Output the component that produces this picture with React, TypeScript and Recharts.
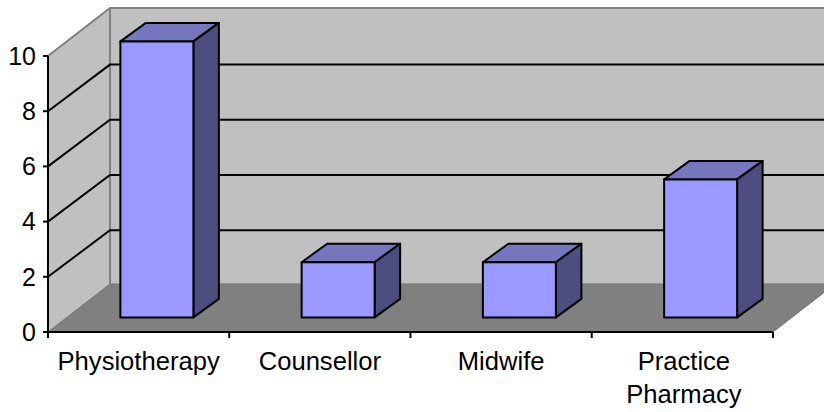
import React from "react";
import { BarChart, Bar, XAxis, YAxis, ReferenceArea } from "recharts";

const categories = ["Physiotherapy", "Counsellor", "Midwife", "Practice Pharmacy"];
const values = [10, 2, 2, 5];
const yTicks = [0, 2, 4, 6, 8, 10];
const gridValues = [2, 4, 6, 8];
const yMax = 10;

const rows = categories.map((name, i) => ({ name, value: values[i] }));

const FONT = "'Liberation Sans', Arial, sans-serif";
const WALL_DX = 62;
const WALL_DY = -48;
const GRID_DY = -46.6;
const BAR_SHIFT_X = 18;
const BAR_SHIFT_Y = -14.6;
const BAR_DX = 25.5;
const BAR_DY = -18.5;
const HALF_BAND = 90.6;

const pts = (a: number[][]) => a.map((p) => p.join(",")).join(" ");

function Walls(props: any) {
  const { x, y, width, height } = props;
  const b = y + height;
  const r = x + width;
  return (
    <g>
      <polygon
        points={pts([[x, y], [x + WALL_DX, y + WALL_DY], [x + WALL_DX, b + WALL_DY], [x, b]])}
        fill="#c0c0c0"
      />
      <rect x={x + WALL_DX} y={y + WALL_DY} width={width} height={height} fill="#c0c0c0" />
      <polygon
        points={pts([[x, b], [x + WALL_DX, b + WALL_DY], [r + WALL_DX, b + WALL_DY], [r, b]])}
        fill="#808080"
        stroke="#707070"
        strokeWidth={1}
      />
      <polyline
        points={pts([[x, y], [x + WALL_DX, y + WALL_DY], [r + WALL_DX, y + WALL_DY]])}
        fill="none"
        stroke="#808080"
        strokeWidth={2}
      />
      <line
        x1={x + WALL_DX}
        y1={y + WALL_DY}
        x2={x + WALL_DX}
        y2={b + WALL_DY}
        stroke="#808080"
        strokeWidth={2}
      />
      {gridValues.map((v) => {
        const gy = b - (height * v) / yMax;
        return (
          <polyline
            key={v}
            points={pts([[x, gy], [x + WALL_DX, gy + GRID_DY], [r + WALL_DX, gy + GRID_DY]])}
            fill="none"
            stroke="#000"
            strokeWidth={2}
          />
        );
      })}
    </g>
  );
}

function Bar3D(props: any) {
  const { x, y, width, height } = props;
  const l = x + BAR_SHIFT_X;
  const r = l + width;
  const t = y + BAR_SHIFT_Y;
  const b = t + height;
  return (
    <g stroke="#000" strokeWidth={2} strokeLinejoin="round">
      <polygon points={pts([[l, t], [l + BAR_DX, t + BAR_DY], [r + BAR_DX, t + BAR_DY], [r, t]])} fill="#7676bf" />
      <polygon points={pts([[r, t], [r + BAR_DX, t + BAR_DY], [r + BAR_DX, b + BAR_DY], [r, b]])} fill="#4d4d80" />
      <rect x={l} y={t} width={width} height={height} fill="#9999ff" />
    </g>
  );
}

function CategoryTick(props: any) {
  const { x, y, payload, index } = props;
  const words = String(payload.value).split(" ");
  const axisY = y - 8;
  return (
    <g>
      <line x1={x + HALF_BAND} y1={axisY} x2={x + HALF_BAND} y2={axisY + 6} stroke="#000" strokeWidth={2} />
      {index === 0 && <line x1={x - HALF_BAND} y1={axisY} x2={x - HALF_BAND} y2={axisY + 6} stroke="#000" strokeWidth={2} />}
      <text textAnchor="middle" fontFamily={FONT} fontSize={25.6} fill="#000">
        {words.map((w, i) => (
          <tspan key={w} x={x + (i >= 0 && words.length > 1 ? 1.5 : 0)} y={axisY + 38 + i * 33}>
            {w}
          </tspan>
        ))}
      </text>
    </g>
  );
}

export default function App() {
  return (
    <div style={{ position: "absolute", left: 0, top: 0, width: 824, height: 412, overflow: "hidden", background: "#fff" }}>
      <BarChart
        width={824}
        height={412}
        data={rows}
        barCategoryGap="30%"
        margin={{ top: 56, right: 51, bottom: 0, left: 0 }}
      >
        <ReferenceArea y1={0} y2={yMax} ifOverflow="visible" shape={<Walls />} />
        <XAxis
          dataKey="name"
          height={80}
          interval={0}
          tickLine={false}
          axisLine={{ stroke: "#000", strokeWidth: 2 }}
          tick={<CategoryTick />}
        />
        <YAxis
          width={48}
          domain={[0, yMax]}
          ticks={yTicks}
          interval={0}
          tickSize={5}
          tickMargin={7}
          axisLine={{ stroke: "#000", strokeWidth: 2 }}
          tickLine={{ stroke: "#000", strokeWidth: 2 }}
          tick={{ fontSize: 25, fontFamily: FONT, fill: "#000" }}
        />
        <Bar dataKey="value" isAnimationActive={false} shape={<Bar3D />} />
      </BarChart>
    </div>
  );
}
